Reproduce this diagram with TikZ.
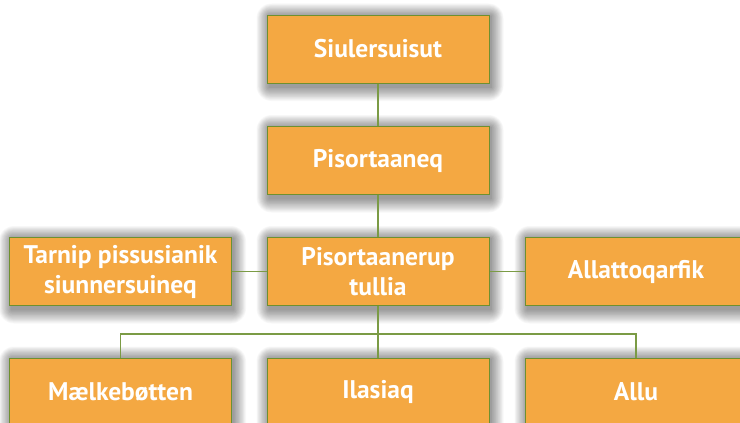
\documentclass[tikz,border=0pt]{standalone}
\usepackage{fontspec}
\setmainfont{PT Sans}
\pgfdeclarelayer{background}
\pgfsetlayers{background,main}
\definecolor{boxfill}{HTML}{F4A842}
\definecolor{boxline}{HTML}{6E9030}
\definecolor{linkline}{HTML}{7B9B45}
\tikzset{
  orgbox/.style={draw=boxline, line width=1pt, fill=boxfill, minimum width=222pt, minimum height=68pt,
    inner sep=0pt, align=center, text=white, font=\fontsize{25.5pt}{30pt}\selectfont\bfseries},
  link/.style={draw=linkline, line width=1.2pt},
  softshadow/.style={fill=black, opacity=0.028}
}
\begin{document}
\begin{tikzpicture}[x=1pt,y=-1pt]
\useasboundingbox (0,0) rectangle (740,423);
\clip (0,0) rectangle (740,423);
\node[orgbox] (top) at (378,49) {Siulersuisut};
\node[orgbox] (p2) at (378,160.5) {Pisortaaneq};
\node[orgbox] (p3) at (378,271.5) {Pisortaanerup\\tullia};
\node[orgbox] (left) at (120.5,271.5) {Tarnip pissusianik\\siunnersuineq};
\node[orgbox] (right) at (636,271.5) {Allattoqarfik};
\node[orgbox] (b1) at (120.5,392) {Mælkebøtten};
\node[orgbox] (b2) at (378,392) {Ilasiaq};
\node[orgbox] (b3) at (636,392) {Allu};
\coordinate (bus) at (378,334);
\begin{pgfonlayer}{background}
\fill[white] (0,0) rectangle (740,423);
\foreach \n in {top,p2,p3,left,right,b1,b2,b3}{
  \foreach \r in {0,...,15}{
    \fill[softshadow, rounded corners=\r pt]
      ([shift={(2-0.8*\r,1-0.8*\r)}]\n.north west) rectangle ([shift={(2+0.8*\r,4+0.9*\r)}]\n.south east);
  }
}
\end{pgfonlayer}
\draw[link] (top.south) -- (p2.north);
\draw[link] (p2.south) -- (p3.north);
\draw[link] (left.east) -- (p3.west);
\draw[link] (p3.east) -- (right.west);
\draw[link] (p3.south) -- (b2.north);
\draw[link] (b1.north) |- (bus) -| (b3.north);
\end{tikzpicture}
\end{document}
